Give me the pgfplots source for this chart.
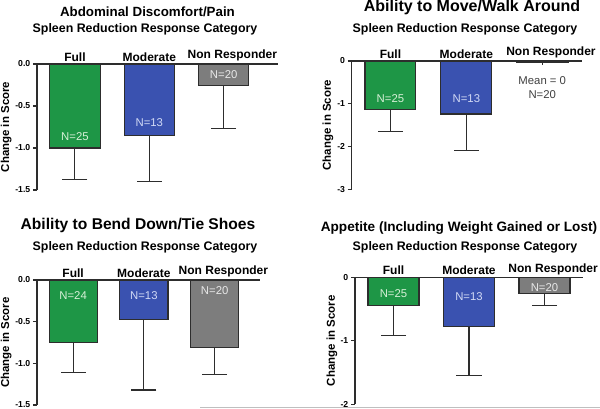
\documentclass[border=0pt]{standalone}
\usepackage{pgfplots}
\pgfplotsset{compat=1.18}
\usepackage{fontspec}
\setmainfont{Liberation Sans}
\definecolor{cgreen}{RGB}{30,150,70}
\definecolor{cblue}{RGB}{58,82,176}
\definecolor{cgray}{RGB}{125,125,125}
\definecolor{cedge}{RGB}{45,45,45}
\definecolor{tgreen}{RGB}{215,240,215}
\definecolor{tblue}{RGB}{210,218,245}
\definecolor{tgray}{RGB}{232,232,232}
\tikzset{nlab/.style={font=\fontsize{8.5}{8.5}\selectfont, text=#1}}
\pgfplotsset{
  panel/.style={
    scale only axis,
    axis x line=top, axis y line=left,
    axis line style={-, line width=1.1pt, cedge},
    xtick={0,1,2},
    xticklabels={Full,Moderate,\hspace*{13pt}Non Responder},
    xtick align=inside,
    ytick align=outside,
    major tick length=3pt,
    tick style={line width=0.9pt, cedge},
    xticklabel style={font=\bfseries\fontsize{9}{9}\selectfont, yshift=-1.5pt},
    yticklabel style={font=\bfseries\fontsize{6.5}{6.5}\selectfont, xshift=1.5pt},
    /pgf/number format/assume math mode=true,
    ylabel={Change in Score},
    ylabel style={font=\bfseries\fontsize{8.6}{8.6}\selectfont, at={(axis description cs:0,0.5)}, anchor=center},
    ymax=0,
    clip=false,
    anchor=north west,
  },
  bars/.style={ybar, bar shift=0pt, bar width=#1, draw=cedge, line width=0.8pt,
    error bars/y dir=minus, error bars/y explicit,
    error bars/error bar style={line width=0.8pt, cedge},
    error bars/error mark options={rotate=90, mark size=9.4pt, line width=0.8pt, cedge}},
}
\begin{document}
\begin{tikzpicture}
\useasboundingbox (0,0) rectangle (450pt,306.75pt);
% Panel 1
\begin{axis}[panel, at={(27.75pt,258.75pt)}, width=180.75pt, height=94.5pt,
  xmin=-0.51, xmax=2.73, ymin=-1.5,
  ytick={0,-0.5,-1,-1.5},
  ylabel style={yshift=23.2pt},
  yticklabel style={/pgf/number format/.cd, fixed, fixed zerofill, precision=1}]
\addplot[bars=0.676, fill=cgreen] coordinates {(0,-1.0) -= (0,0.37)};
\addplot[bars=0.676, fill=cblue] coordinates {(1,-0.85) -= (0,0.55)};
\addplot[bars=0.676, fill=cgray] coordinates {(2,-0.26) -= (0,0.51)};
\node[nlab=tgreen] at (axis cs:0,-0.87) {N=25};
\node[nlab=tblue] at (axis cs:1,-0.70) {N=13};
\node[nlab=tgray] at (axis cs:2,-0.13) {N=20};
\end{axis}
% Panel 2
\begin{axis}[panel, at={(263.8pt,261pt)}, width=172.5pt, height=96.2pt,
  xmin=-0.51, xmax=2.52, ymin=-3,
  ytick={0,-1,-2,-3},
  ylabel style={yshift=17.8pt}]
\addplot[bars=0.67, fill=cgreen] coordinates {(0,-1.13) -= (0,0.51)};
\addplot[bars=0.67, fill=cblue] coordinates {(1,-1.24) -= (0,0.86)};
\addplot[bars=0.67, fill=cgray, line width=1.6pt] coordinates {(2,-0.025) -= (0,0)};
\node[nlab=tgreen] at (axis cs:0,-0.89) {N=25};
\node[nlab=tblue] at (axis cs:1,-0.89) {N=13};
\node[font=\fontsize{8.5}{10.5}\selectfont, text=black!75, align=center] at (axis cs:2,-0.62) {Mean = 0\\N=20};
\end{axis}
% Panel 3
\begin{axis}[panel, at={(27.75pt,96.75pt)}, width=167.25pt, height=93.75pt,
  xmin=-0.51, xmax=2.64, ymin=-1.5,
  ytick={0,-0.5,-1,-1.5},
  ylabel style={yshift=23.2pt},
  yticklabel style={/pgf/number format/.cd, fixed, fixed zerofill, precision=1}]
\addplot[bars=0.68, fill=cgreen] coordinates {(0,-0.75) -= (0,0.36)};
\addplot[bars=0.68, fill=cblue] coordinates {(1,-0.47) -= (0,0.85)};
\addplot[bars=0.68, fill=cgray] coordinates {(2,-0.81) -= (0,0.32)};
\node[nlab=tgreen] at (axis cs:0,-0.19) {N=24};
\node[nlab=tblue] at (axis cs:1,-0.19) {N=13};
\node[nlab=tgray] at (axis cs:2,-0.13) {N=20};
\end{axis}
% Panel 4
\begin{axis}[panel, at={(266.25pt,98.8pt)}, width=171pt, height=95.25pt,
  xmin=-0.51, xmax=2.51, ymin=-2,
  ytick={0,-1,-2},
  ylabel style={yshift=17.3pt}]
\addplot[bars=0.675, fill=cgreen] coordinates {(0,-0.45) -= (0,0.47)};
\addplot[bars=0.675, fill=cblue] coordinates {(1,-0.78) -= (0,0.76)};
\addplot[bars=0.675, fill=cgray] coordinates {(2,-0.26) -= (0,0.19)};
\node[nlab=tgreen] at (axis cs:0,-0.25) {N=25};
\node[nlab=tblue] at (axis cs:1,-0.31) {N=13};
\node[nlab=tgray] at (axis cs:2,-0.17) {N=20};
\end{axis}
% Titles
\node[font=\bfseries\fontsize{10}{10}\selectfont] at (110.6pt,297.75pt) {Abdominal Discomfort/Pain};
\node[font=\bfseries\fontsize{9.3}{9.3}\selectfont] at (108.75pt,285pt) {Spleen Reduction Response Category};
\node[font=\bfseries\fontsize{12}{12}\selectfont] at (354pt,301pt) {Ability to Move/Walk Around};
\node[font=\bfseries\fontsize{9.3}{9.3}\selectfont] at (348.75pt,285pt) {Spleen Reduction Response Category};
\node[font=\bfseries\fontsize{11.7}{11.7}\selectfont] at (103.5pt,137.5pt) {Ability to Bend Down/Tie Shoes};
\node[font=\bfseries\fontsize{9.3}{9.3}\selectfont] at (108.75pt,121.5pt) {Spleen Reduction Response Category};
\node[font=\bfseries\fontsize{10.2}{10.2}\selectfont] at (344.25pt,136pt) {Appetite (Including Weight Gained or Lost)};
\node[font=\bfseries\fontsize{9.3}{9.3}\selectfont] at (348.75pt,121.3pt) {Spleen Reduction Response Category};
\draw[black!25, line width=0.6pt] (150pt,1.5pt) -- (450pt,1.5pt);
\end{tikzpicture}
\end{document}
